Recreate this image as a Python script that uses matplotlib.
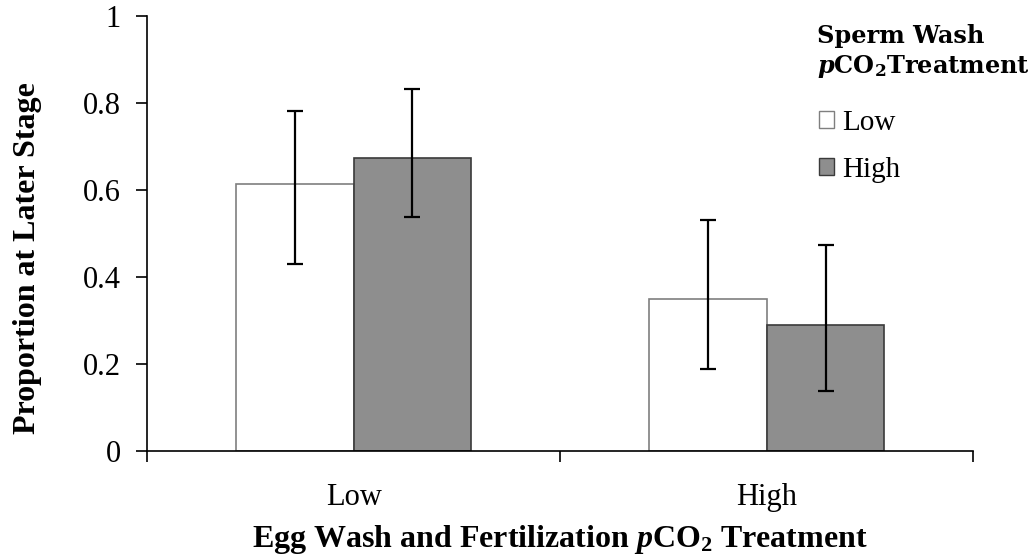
import numpy as np
import matplotlib
matplotlib.use('Agg')
import matplotlib.pyplot as plt

plt.rcParams['font.family'] = 'Liberation Serif'
plt.rcParams['mathtext.fontset'] = 'custom'
plt.rcParams['mathtext.rm'] = 'Liberation Serif:bold'
plt.rcParams['mathtext.it'] = 'Liberation Serif:italic:bold'
plt.rcParams['mathtext.bf'] = 'Liberation Serif:bold'

# Data
egg_treatments = ['Low', 'High']
sperm_treatments = ['Low', 'High']
prop_low = [0.614, 0.348]
prop_high = [0.673, 0.290]
err_low_lower = [0.430, 0.187]
err_low_upper = [0.781, 0.531]
err_high_lower = [0.538, 0.138]
err_high_upper = [0.832, 0.472]

fig = plt.figure(figsize=(10.34, 5.54), dpi=100)
ax = fig.add_axes([0.1422, 0.1865, 0.799, 0.7847])

x = np.arange(len(egg_treatments))
w = 0.285

yerr_low = [np.array(prop_low) - np.array(err_low_lower), np.array(err_low_upper) - np.array(prop_low)]
yerr_high = [np.array(prop_high) - np.array(err_high_lower), np.array(err_high_upper) - np.array(prop_high)]

b1 = ax.bar(x - w / 2, prop_low, w, color='white', edgecolor='#7f7f7f', linewidth=1.2,
            label=sperm_treatments[0], zorder=2)
b2 = ax.bar(x + w / 2, prop_high, w, color='#8e8e8e', edgecolor='#3a3a3a', linewidth=1.2,
            label=sperm_treatments[1], zorder=2)
ax.errorbar(x - w / 2, prop_low, yerr=yerr_low, fmt='none', ecolor='black', elinewidth=1.6,
            capsize=5.8, capthick=1.6, zorder=3)
ax.errorbar(x + w / 2, prop_high, yerr=yerr_high, fmt='none', ecolor='black', elinewidth=1.6,
            capsize=5.8, capthick=1.6, zorder=3)

ax.set_xlim(-0.5, 1.5)
ax.set_ylim(0, 1)
ax.set_yticks(np.arange(0, 1.01, 0.2))
ax.set_yticklabels(['0', '0.2', '0.4', '0.6', '0.8', '1'])
ax.set_xticks([-0.5, 0.5, 1.5])
ax.set_xticklabels([])
ax.set_xticks(x, minor=True)
ax.set_xticklabels(egg_treatments, minor=True)
ax.tick_params(axis='x', which='minor', length=0, pad=23, labelsize=22)
ax.tick_params(axis='x', which='major', length=8, width=1.2, direction='out')
ax.tick_params(axis='y', length=8, width=1.2, direction='out', labelsize=22, pad=11)

for s in ['top', 'right']:
    ax.spines[s].set_visible(False)
for s in ['left', 'bottom']:
    ax.spines[s].set_linewidth(1.2)

ax.set_ylabel('Proportion at Later Stage', fontsize=23, fontweight='bold')
ax.yaxis.set_label_coords(-0.127, 0.442)
ax.set_xlabel(r'Egg Wash and Fertilization $\mathit{p}\mathrm{CO}_\mathrm{2}$ Treatment',
              fontsize=23, fontweight='bold', labelpad=8, math_fontfamily='custom')

# legend
fig.text(817 / 1034, 1 - 43 / 554, 'Sperm Wash', fontsize=17.3, fontweight='bold',
         family='DejaVu Serif', va='baseline', ha='left')
fig.text(817 / 1034, 1 - 73 / 554, r'$\mathbfit{p}\mathbf{CO}_\mathbf{2}$Treatment', fontsize=17.3,
         fontweight='bold', family='DejaVu Serif', va='baseline', ha='left',
         math_fontfamily='dejavuserif')
leg = ax.legend(handles=[b1, b2], loc='upper left', bbox_to_anchor=(819 / 1034, 1 - 110 / 554),
                bbox_transform=fig.transFigure, frameon=False, fontsize=21,
                handlelength=0.5, handleheight=0.5, handletextpad=0.3, labelspacing=0.72,
                borderpad=0, borderaxespad=0)
for h in leg.legend_handles:
    h.set_linewidth(1.0)

fig.savefig('out.png', dpi=100)
